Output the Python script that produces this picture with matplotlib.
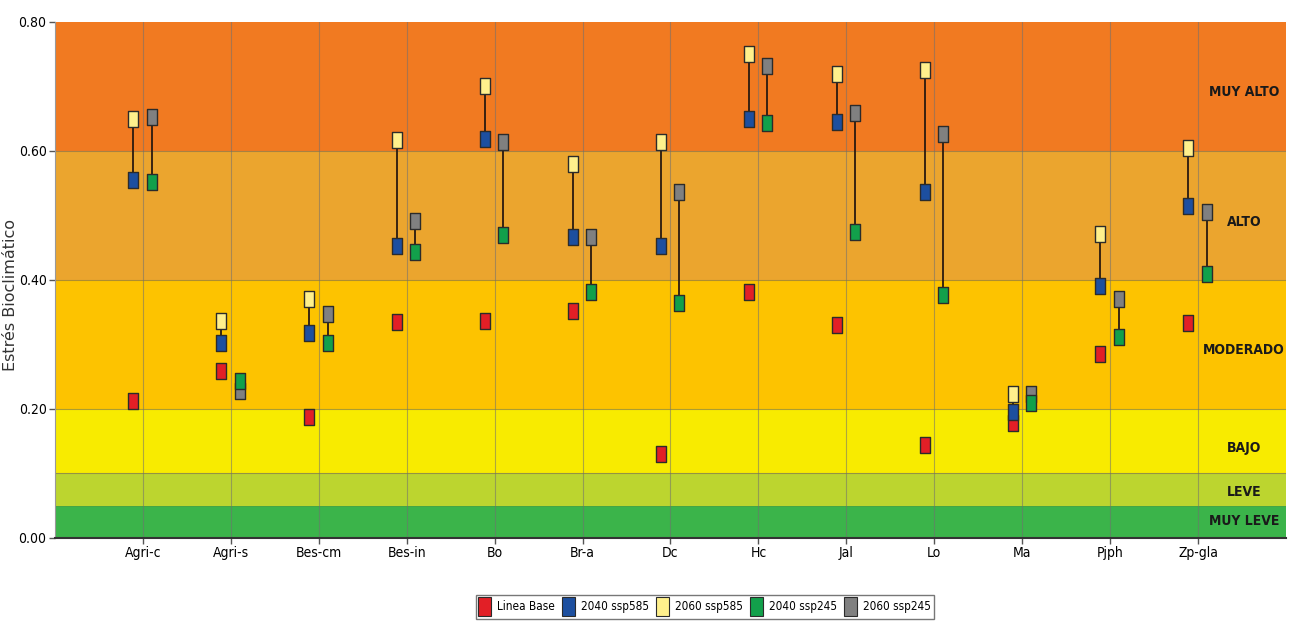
import matplotlib
matplotlib.use("Agg")
import matplotlib.pyplot as plt
from matplotlib.patches import Patch
from matplotlib.path import Path
from matplotlib import font_manager as fm
import numpy as np

categories = ["Agri-c", "Agri-s", "Bes-cm", "Bes-in", "Bo", "Br-a", "Dc", "Hc", "Jal", "Lo", "Ma", "Pjph", "Zp-gla"]
linea_base = [0.212, 0.259, 0.187, 0.335, 0.336, 0.352, 0.130, 0.382, 0.330, 0.144, 0.179, 0.285, 0.333]
ssp585_2040 = [0.555, 0.302, 0.318, 0.453, 0.618, 0.467, 0.453, 0.650, 0.645, 0.536, 0.195, 0.391, 0.515]
ssp585_2060 = [0.650, 0.337, 0.370, 0.617, 0.701, 0.580, 0.614, 0.751, 0.719, 0.726, 0.223, 0.472, 0.605]
ssp245_2040 = [0.552, 0.244, 0.303, 0.444, 0.469, 0.382, 0.365, 0.644, 0.475, 0.376, 0.210, 0.311, 0.409]
ssp245_2060 = [0.653, 0.228, 0.347, 0.491, 0.614, 0.466, 0.536, 0.731, 0.659, 0.626, 0.224, 0.370, 0.506]

band_edges = [0.0, 0.05, 0.10, 0.20, 0.40, 0.60, 0.80]
band_names = ["MUY LEVE", "LEVE", "BAJO", "MODERADO", "ALTO", "MUY ALTO"]
band_colors = ["#3BB44A", "#BCD52F", "#F8EB00", "#FDC300", "#EBA52E", "#F17A21"]
band_label_y = [0.026, 0.071, 0.140, 0.291, 0.490, 0.691]

series_labels = ["Linea Base", "2040 ssp585", "2060 ssp585", "2040 ssp245", "2060 ssp245"]
series_colors = ["#E21F26", "#1D4F9F", "#FFF08C", "#12A04B", "#808080"]


def find_font(keys):
    files = fm.findSystemFonts()
    for k in keys:
        for f in files:
            if k.lower() in f.lower().replace("-", "").replace("_", "").replace(" ", ""):
                return f
    return None


reg_path = find_font(["LiberationSansNarrowRegular", "DejaVuSansCondensed.ttf", "RobotoCondensedRegular", "Condensed"])
bold_path = find_font(["LiberationSansNarrowBold.", "DejaVuSansCondensedBold.ttf", "RobotoCondensedBold", "CondensedBold"])


def fp(size, bold=False):
    path = bold_path if bold else reg_path
    if path:
        return fm.FontProperties(fname=path, size=size)
    return fm.FontProperties(family="DejaVu Sans", size=size, weight="bold" if bold else "normal")


fig = plt.figure(figsize=(12.93, 6.26), dpi=100)
ax = fig.add_axes([0.0425, 0.1406, 0.9521, 0.8243])

x = np.arange(1, len(categories) + 1)
xl = x - 0.11
xr = x + 0.10

for i in range(len(band_names)):
    ax.axhspan(band_edges[i], band_edges[i + 1], color=band_colors[i], zorder=0, lw=0)
    ax.text(13.52, band_label_y[i], band_names[i], ha="center", va="center",
            fontproperties=fp(10, True), color="#1a1a1a", zorder=5)

for e in [0.10, 0.20, 0.40, 0.60]:
    ax.axhline(e, color="#7a6a50", lw=0.8, alpha=0.6, zorder=1)
ax.axhline(0.05, color="#5a8a3a", lw=0.6, alpha=0.4, zorder=1)
for xi in x:
    ax.axvline(xi, color="#707070", lw=0.8, alpha=0.55, zorder=1)

ax.vlines(xl, ssp585_2040, ssp585_2060, color="#2a1a10", lw=1.3, zorder=2)
ax.vlines(xr, ssp245_2040, ssp245_2060, color="#2a1a10", lw=1.3, zorder=2)

rect = Path([(-0.62, -1), (0.62, -1), (0.62, 1), (-0.62, 1), (-0.62, -1)],
            [Path.MOVETO, Path.LINETO, Path.LINETO, Path.LINETO, Path.CLOSEPOLY])
mk = dict(marker=rect, markersize=11, markeredgecolor="#2b2b2b", markeredgewidth=1.0,
          linestyle="none", zorder=3)
ax.plot(xl, linea_base, markerfacecolor=series_colors[0], **mk)
ax.plot(xl, ssp585_2060, markerfacecolor=series_colors[2], **mk)
ax.plot(xl, ssp585_2040, markerfacecolor=series_colors[1], **mk)
ax.plot(xr, ssp245_2060, markerfacecolor=series_colors[4], **mk)
ax.plot(xr, ssp245_2040, markerfacecolor=series_colors[3], **mk)

ax.set_xlim(0, 14)
ax.set_ylim(0, 0.8)
ax.set_xticks(x)
ax.set_xticklabels(categories, fontproperties=fp(10))
ax.set_yticks([0.0, 0.2, 0.4, 0.6, 0.8])
ax.set_yticklabels(["0.00", "0.20", "0.40", "0.60", "0.80"], fontproperties=fp(10))
ax.tick_params(axis="both", length=4, color="#555555", width=1, pad=2)
for s in ["top", "right"]:
    ax.spines[s].set_visible(False)
ax.spines["left"].set_color("#999999")
ax.spines["bottom"].set_color("#333333")
ax.spines["bottom"].set_linewidth(1.5)
ax.set_ylabel("Estrés Bioclimático", fontsize=11.5, color="#333333")
ax.yaxis.set_label_coords(-0.030, 0.47)

handles = [Patch(facecolor=c, edgecolor="#2b2b2b", lw=0.8) for c in series_colors]
leg = fig.legend(handles, series_labels, loc="center", bbox_to_anchor=(0.545, 0.031), ncol=5,
                 frameon=True, fancybox=False, edgecolor="#555555", handlelength=1.1,
                 handleheight=2.0, handletextpad=0.5, columnspacing=0.6, borderpad=0.25,
                 prop=fp(8.5))

fig.savefig("out.png", dpi=100)
